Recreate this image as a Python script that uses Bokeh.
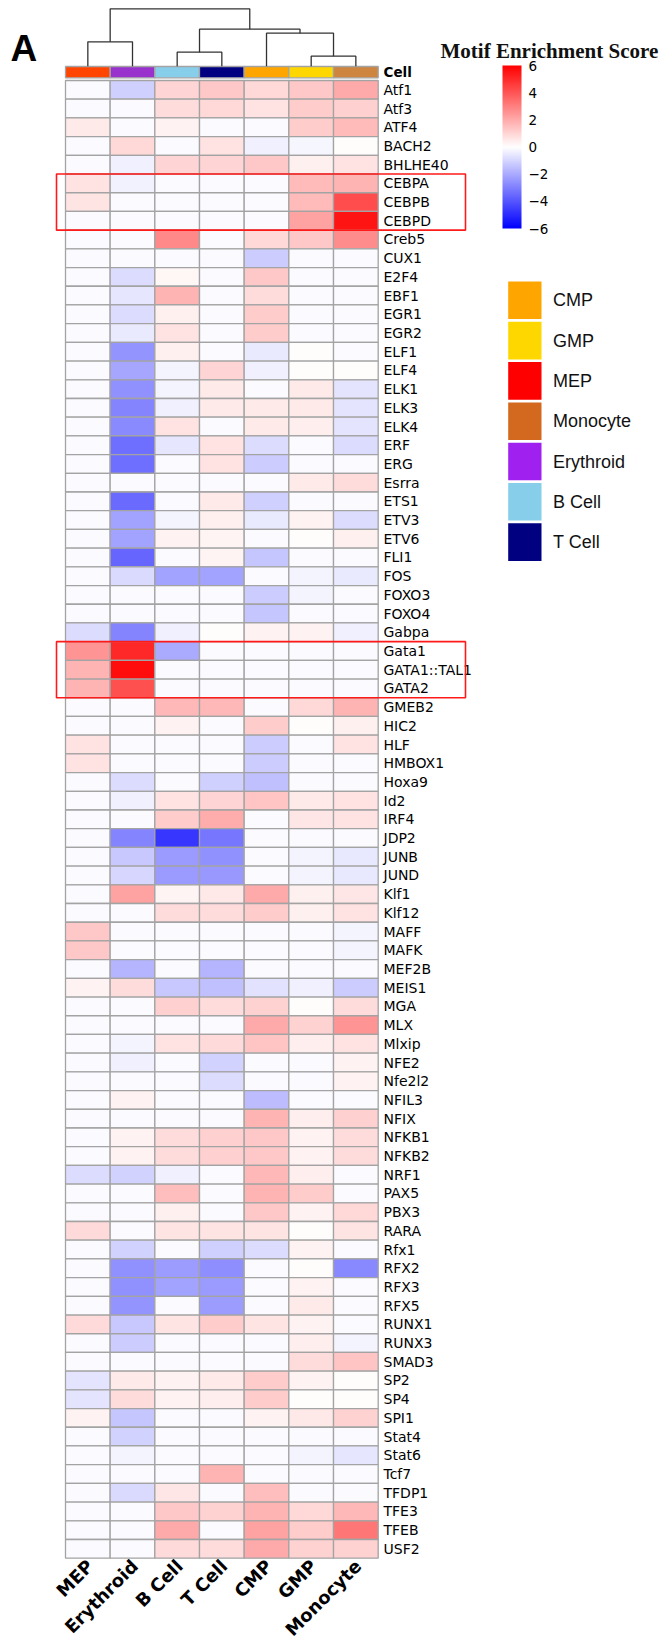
import numpy as np
from bokeh.plotting import figure
from bokeh.models import Range1d, ColumnDataSource, LinearColorMapper, ColorBar, FixedTicker
from bokeh.transform import transform
from bokeh.core.properties import value
from bokeh.embed import file_html
from bokeh.resources import INLINE

# ---------------- data ----------------
columns = ["MEP", "Erythroid", "B Cell", "T Cell", "CMP", "GMP", "Monocyte"]
motifs = ["Atf1", "Atf3", "ATF4", "BACH2", "BHLHE40", "CEBPA", "CEBPB", "CEBPD", "Creb5", "CUX1",
          "E2F4", "EBF1", "EGR1", "EGR2", "ELF1", "ELF4", "ELK1", "ELK3", "ELK4", "ERF",
          "ERG", "Esrra", "ETS1", "ETV3", "ETV6", "FLI1", "FOS", "FOXO3", "FOXO4", "Gabpa",
          "Gata1", "GATA1::TAL1", "GATA2", "GMEB2", "HIC2", "HLF", "HMBOX1", "Hoxa9", "Id2", "IRF4",
          "JDP2", "JUNB", "JUND", "Klf1", "Klf12", "MAFF", "MAFK", "MEF2B", "MEIS1", "MGA",
          "MLX", "Mlxip", "NFE2", "Nfe2l2", "NFIL3", "NFIX", "NFKB1", "NFKB2", "NRF1", "PAX5",
          "PBX3", "RARA", "Rfx1", "RFX2", "RFX3", "RFX5", "RUNX1", "RUNX3", "SMAD3", "SP2",
          "SP4", "SPI1", "Stat4", "Stat6", "Tcf7", "TFDP1", "TFE3", "TFEB", "USF2"]

mep = [-0.1, -0.1, 0.5, -0.1, -0.1, 0.7, 0.65, -0.1, -0.1, -0.1,
       -0.1, -0.1, -0.1, -0.1, -0.1, -0.1, -0.1, -0.1, -0.1, -0.1,
       -0.1, -0.1, -0.1, -0.1, -0.1, -0.1, -0.1, -0.1, -0.1, -0.8,
       2.5, 1.75, 1.75, -0.1, -0.1, 0.7, 0.7, -0.1, -0.1, -0.1,
       -0.1, -0.1, -0.1, -0.1, -0.1, 1.3, 1.3, -0.1, 0.3, -0.1,
       -0.1, -0.1, -0.1, -0.1, -0.1, -0.1, -0.1, -0.1, -0.8, -0.1,
       -0.1, 0.85, -0.1, -0.1, -0.1, -0.1, 0.85, -0.1, -0.1, -0.65,
       -0.65, 0.3, -0.1, -0.1, -0.1, -0.1, -0.1, -0.1, -0.1]
erythroid = [-1.1, -0.1, -0.1, 0.9, -0.35, -0.3, -0.1, -0.1, -0.1, -0.1,
             -0.8, -0.6, -0.8, -0.5, -2.5, -2.1, -2.6, -2.9, -2.75, -3.4,
             -3.4, -0.1, -3.5, -2.2, -2.2, -3.6, -0.85, -0.1, -0.1, -2.9,
             5.05, 5.7, 4.1, -0.1, -0.1, -0.1, -0.1, -0.8, -0.35, -0.1,
             -2.9, -1.3, -0.95, 2.2, -0.1, -0.1, -0.1, -1.75, 0.8, -0.1,
             -0.1, -0.25, -0.35, -0.1, 0.3, -0.1, 0.3, 0.3, -1.05, -0.1,
             -0.1, -0.1, -1.05, -2.6, -2.6, -2.5, -1.3, -1.2, -0.1, 0.5,
             0.8, -1.35, -1.05, -0.25, -0.1, -0.85, -0.1, -0.1, -0.1]
b_cell = [1.0, 0.8, 0.3, -0.1, 1.0, -0.1, -0.1, -0.1, 2.8, -0.1,
          0.2, 1.75, 0.35, 0.7, 0.35, -0.25, -0.25, -0.35, 0.7, -0.6,
          -0.1, -0.1, -0.1, -0.25, 0.3, -0.1, -2.2, -0.1, -0.1, -0.35,
          -2.0, -0.1, -0.1, 1.65, 0.3, -0.1, -0.1, -0.1, 0.7, 1.2,
          -4.7, -2.35, -2.35, 0.25, 0.8, -0.1, -0.1, -0.1, -1.3, 1.1,
          -0.1, 0.7, -0.1, -0.1, -0.1, -0.1, 0.8, 0.8, -0.35, 1.5,
          0.35, 0.65, -0.1, -2.3, -2.2, -0.1, 0.65, -0.1, -0.1, 0.3,
          0.3, -0.1, -0.1, -0.1, -0.1, 0.6, 1.3, 2.0, 0.85]
t_cell = [1.3, 0.9, -0.1, 0.7, 1.0, -0.1, -0.1, -0.1, -0.1, -0.1,
          -0.1, -0.1, -0.1, -0.1, -0.1, 1.0, 0.5, 0.5, -0.1, 0.7,
          0.7, -0.1, 0.5, 0.35, 0.25, 0.25, -2.2, -0.1, -0.1, 0.05,
          -0.1, -0.1, -0.1, 1.65, -0.1, -0.1, -0.1, -1.1, 1.0, 1.95,
          -3.2, -2.6, -2.4, 0.55, 0.8, -0.1, -0.1, -1.75, -1.5, 0.8,
          -0.1, 0.85, -1.05, -0.8, -0.1, -0.1, 1.1, 1.1, -0.1, -0.1,
          -0.1, 0.65, -1.1, -2.65, -2.35, -2.3, 1.2, -0.1, -0.1, 0.5,
          0.4, -0.1, -0.1, -0.1, 1.75, -0.1, 1.05, -0.1, 0.8]
cmp_ = [0.9, 0.7, -0.1, -0.35, 1.3, -0.1, -0.1, -0.1, 0.9, -1.2,
        1.3, 0.8, 1.2, 1.2, -0.5, -0.35, -0.1, 0.5, 0.5, -0.8,
        -1.2, -0.1, -1.1, -0.5, -0.1, -1.35, -0.1, -1.2, -1.35, 0.3,
        -0.1, -0.1, -0.1, -0.1, 1.2, -1.2, -1.2, -1.5, 1.4, -0.1,
        -0.1, -0.1, -0.1, 2.0, 1.2, -0.1, -0.1, -0.1, -0.7, 1.05,
        2.0, 1.4, -0.1, -0.1, -1.55, 1.75, 1.3, 1.3, 1.65, 1.75,
        1.3, 0.65, -0.8, -0.1, -0.1, -0.1, 0.65, -0.1, -0.1, 1.2,
        1.2, 0.3, -0.1, -0.1, -0.1, 1.5, 1.75, 2.2, 2.0]
gmp = [1.3, 1.2, 1.2, -0.2, 0.35, 1.6, 1.6, 2.2, 1.3, -0.1,
       -0.1, -0.1, -0.1, -0.1, 0.05, 0.05, 0.5, 0.5, 0.4, -0.1,
       -0.1, 0.5, -0.1, 0.3, 0.05, -0.1, -0.25, -0.25, -0.1, 0.3,
       -0.1, -0.1, -0.1, 0.9, 0.05, -0.1, -0.1, -0.1, 0.5, 0.6,
       -0.1, -0.25, -0.25, 0.35, 0.35, -0.1, -0.1, -0.1, -0.35, 0.05,
       1.05, 0.4, -0.1, -0.1, -0.1, 0.4, 0.3, 0.3, 0.4, 1.2,
       0.3, 0.05, 0.3, 0.05, 0.3, 0.5, 0.3, 0.4, 0.8, 0.3,
       0.05, 0.55, -0.1, -0.25, -0.1, -0.1, 0.9, 1.2, 1.05]
monocyte = [2.0, 1.1, 1.6, 0.05, 0.7, 1.75, 4.2, 5.5, 2.7, -0.1,
            -0.1, -0.1, -0.1, -0.1, -0.1, 0.05, -0.65, -0.65, -0.65, -0.8,
            -0.1, 0.8, -0.1, -0.8, 0.35, -0.1, -0.5, -0.1, -0.1, -0.35,
            -0.1, -0.1, -0.1, 1.75, 0.35, 0.7, -0.1, -0.1, 0.7, 0.7,
            -0.1, -0.55, -0.55, 0.6, 0.7, -0.25, -0.25, -0.1, -1.2, 0.8,
            2.5, 0.7, 0.3, 0.3, -0.1, 1.1, 0.8, 0.8, -0.1, -0.1,
            0.9, 0.65, -0.1, -2.8, -0.1, -0.1, -0.1, -0.25, 1.4, 0.05,
            0.05, 1.05, -0.1, -0.6, -0.1, -0.1, 1.65, 3.2, 1.05]
series = [mep, erythroid, b_cell, t_cell, cmp_, gmp, monocyte]

column_colors = ["#FF4500", "#9932CC", "#87CEEB", "#000080", "#FFA500", "#FFD700", "#CD853F"]
legend_labels = ["CMP", "GMP", "MEP", "Monocyte", "Erythroid", "B  Cell", "T  Cell"]
legend_colors = ["#FFA500", "#FFD700", "#FF0000", "#D2691E", "#A020F0", "#87CEEB", "#000080"]
cbar_ticks = [-6, -4, -2, 0, 2, 4, 6]
cbar_labels = ["\u22126", "\u22124", "\u22122", "0", "2", "4", "6"]
highlight_groups = [("CEBPA", "CEBPD"), ("Gata1", "GATA2")]
# dendrogram: (node a, node b, merge height); leaves 0..6 in column order, new nodes 7..12
dend_merges = [(0, 1, 24.4), (2, 3, 14.0), (5, 6, 10.0), (4, 9, 33.0), (8, 10, 37.0), (7, 11, 57.4)]

# ---------------- layout constants (pixels) ----------------
W, H = 659, 1644
PX_X = 44.67     # px per column
PX_Y = 18.705    # px per row
X0, Y0 = 65.0, 80.0   # position of heatmap top-left


def dx(px):
    return (px - X0) / PX_X


def dy(py):
    return (py - Y0) / PX_Y


p = figure(width=W, height=H, output_backend="svg", toolbar_location=None,
           x_range=Range1d(dx(0), dx(W)), y_range=Range1d(dy(H), dy(0)),
           x_axis_location=None, y_axis_location=None,
           min_border=0, min_border_left=0, min_border_right=0,
           min_border_top=0, min_border_bottom=0)
p.grid.visible = False
p.outline_line_color = None
p.background_fill_color = "white"

# palette blue -> white -> red
palette = []
for i in range(256):
    t = i / 255.0
    if t < 0.5:
        f = t / 0.5
        palette.append("#%02x%02x%02x" % (int(round(255 * f)), int(round(255 * f)), 255))
    else:
        f = (t - 0.5) / 0.5
        palette.append("#%02x%02x%02x" % (255, int(round(255 * (1 - f))), int(round(255 * (1 - f)))))
mapper = LinearColorMapper(palette=palette, low=-6, high=6)

# heatmap cells
xs, ys, vs = [], [], []
for ci, col in enumerate(series):
    for ri, v in enumerate(col):
        xs.append(ci + 0.5)
        ys.append(ri + 0.5)
        vs.append(v)
src = ColumnDataSource(dict(x=xs, y=ys, v=vs))
p.rect(x="x", y="y", width=1, height=1, source=src,
       fill_color=transform("v", mapper), line_color="#a3a3a3", line_width=1.3)

# annotation bar
ann_top, ann_bot = 66.0, 77.3
p.rect(x=[i + 0.5 for i in range(len(columns))],
       y=[(dy(ann_top) + dy(ann_bot)) / 2] * len(columns),
       width=1, height=dy(ann_bot) - dy(ann_top),
       fill_color=column_colors, line_color="#a3a3a3", line_width=1.3)
p.text(x=[dx(383)], y=[(dy(ann_top) + dy(ann_bot)) / 2], text=["Cell"],
       text_font=value("DejaVu Sans"), text_font_style="bold", text_font_size="13.5px",
       text_baseline="middle", text_align="left", text_color="black")

# row labels
p.text(x=[dx(383)] * len(motifs), y=[i + 0.5 for i in range(len(motifs))], text=motifs,
       text_font=value("DejaVu Sans"), text_font_size="14px",
       text_baseline="middle", text_align="left", text_color="black")

# column labels
p.text(x=[i + 0.55 for i in range(len(columns))], y=[len(motifs) + 0.25] * len(columns),
       text=columns, angle=np.pi / 4, text_font=value("DejaVu Sans"),
       text_font_style="bold", text_font_size="18px",
       text_align="right", text_baseline="middle", text_color="black")

# dendrogram
leaf_y = dy(65.7)
node_x = {i: i + 0.5 for i in range(len(columns))}
node_y = {i: leaf_y for i in range(len(columns))}
d_xs, d_ys = [], []
for k, (a, b, h) in enumerate(dend_merges):
    yh = leaf_y - h / PX_Y
    d_xs.append([node_x[a], node_x[a], node_x[b], node_x[b]])
    d_ys.append([node_y[a], yh, yh, node_y[b]])
    nid = len(columns) + k
    node_x[nid] = (node_x[a] + node_x[b]) / 2
    node_y[nid] = yh
p.multi_line(xs=d_xs, ys=d_ys, line_color="#333333", line_width=1.3)

# highlight boxes
for first, last in highlight_groups:
    i0 = motifs.index(first)
    i1 = motifs.index(last) + 1
    p.quad(left=[dx(56)], right=[dx(465)], top=[i0], bottom=[i1],
           fill_alpha=0, line_color="#ff1a1a", line_width=1.6)

# panel letter and colorbar title
p.text(x=[dx(10)], y=[dy(48)], text=["A"], text_font=value("Liberation Sans"),
       text_font_style="bold", text_font_size="37px", text_baseline="alphabetic",
       text_color="black")
p.text(x=[dx(440)], y=[dy(50)], text=["Motif Enrichment Score"],
       text_font=value("Liberation Serif"), text_font_style="bold",
       text_font_size="21px", text_baseline="alphabetic", text_color="#111111")

# colorbar
cb_left, cb_top, cb_w, cb_h = 502, 65, 19, 163
cb = ColorBar(color_mapper=mapper, ticker=FixedTicker(ticks=cbar_ticks),
              major_label_overrides={float(t): l for t, l in zip(cbar_ticks, cbar_labels)},
              width=cb_w, height=cb_h, location=(cb_left, H - (cb_top + cb_h)),
              padding=0, label_standoff=7, major_tick_line_color=None,
              bar_line_color=None, border_line_color=None, background_fill_alpha=0,
              major_label_text_font="DejaVu Sans", major_label_text_font_size="13.5px",
              major_label_text_color="black")
p.add_layout(cb)

# legend (swatches + labels)
sw_left, sw_right, sw_top0, sw_h, sw_pitch = 507.7, 541.0, 281.0, 37.6, 40.3
leg_y = [dy(sw_top0 + i * sw_pitch + sw_h / 2) for i in range(len(legend_labels))]
p.rect(x=[(dx(sw_left) + dx(sw_right)) / 2] * len(legend_labels), y=leg_y,
       width=dx(sw_right) - dx(sw_left), height=sw_h / PX_Y,
       fill_color=legend_colors, line_color=None)
p.text(x=[dx(552.5)] * len(legend_labels), y=leg_y, text=legend_labels,
       text_font=value("Liberation Sans"), text_font_size="18px",
       text_baseline="middle", text_align="left", text_color="#111111")

open("out.html", "w").write(file_html(p, INLINE))
